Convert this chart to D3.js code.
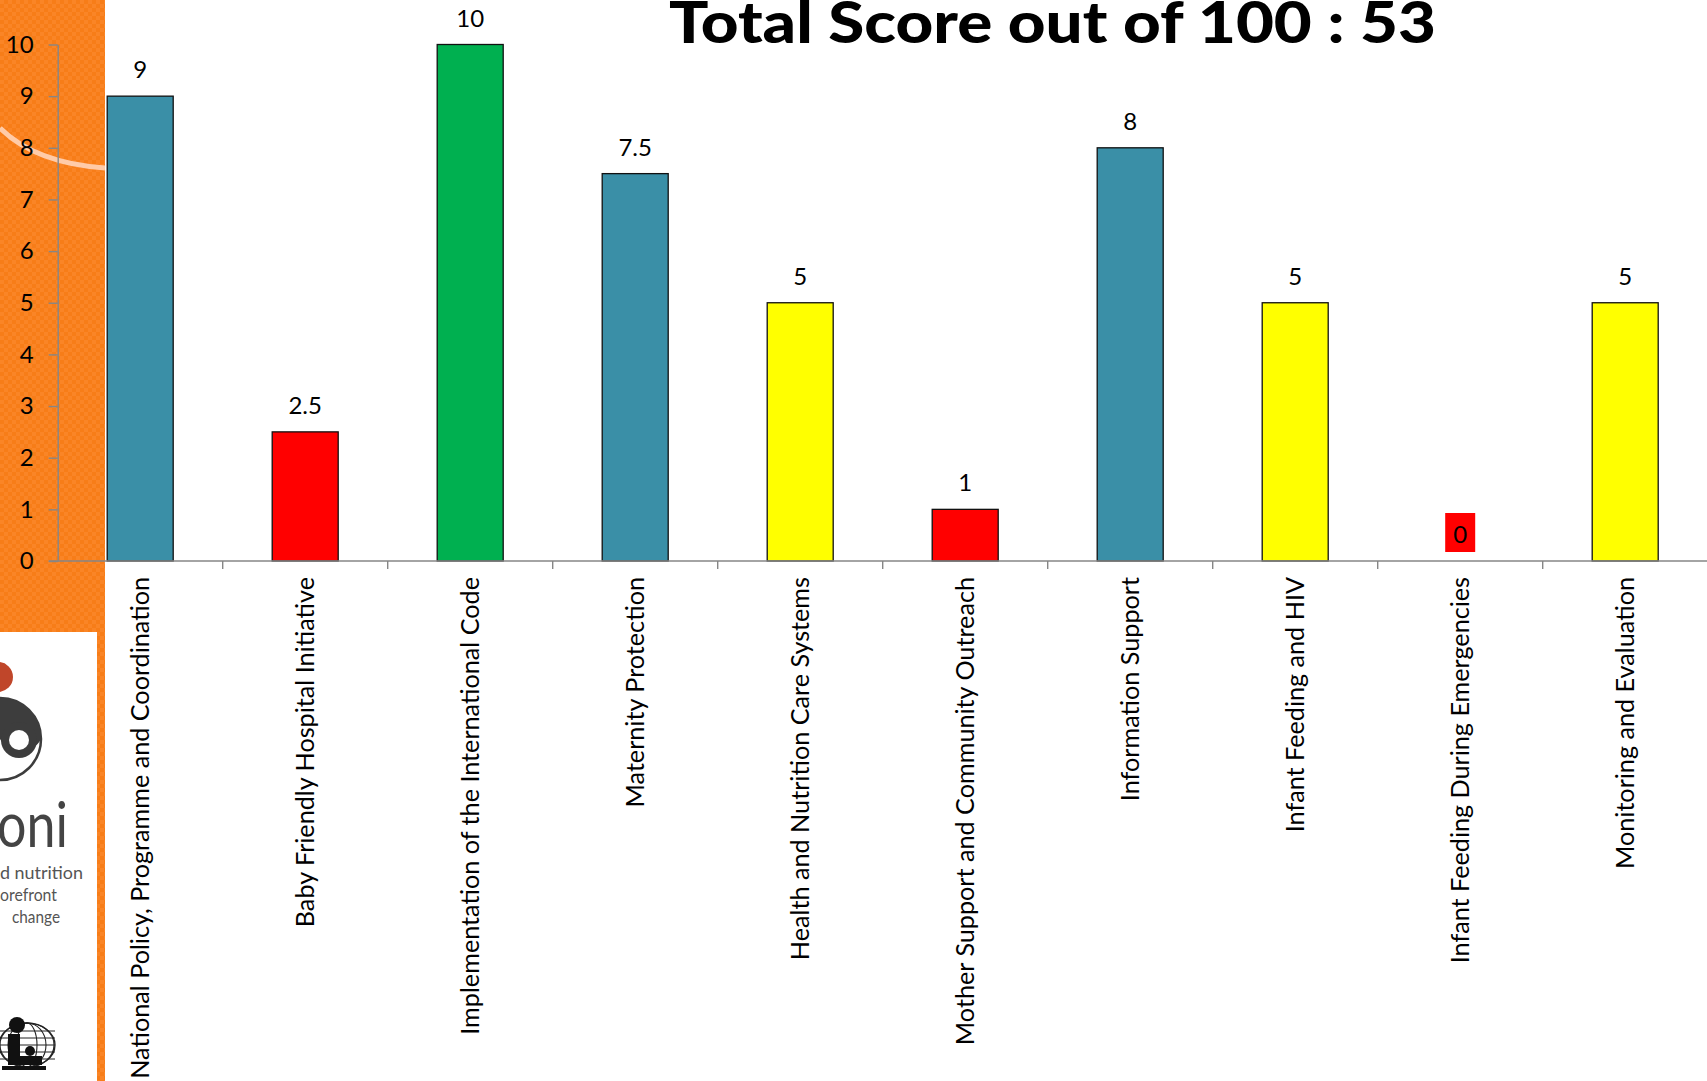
<!DOCTYPE html>
<html>
<head>
<meta charset="utf-8">
<script src="https://cdn.jsdelivr.net/npm/d3@7.9.0/dist/d3.min.js"></script>
<style>
  html, body { margin: 0; padding: 0; background: #fff; overflow: hidden; }
  svg { display: block; font-family: Lato, "Open Sans", sans-serif; }
</style>
</head>
<body>
<div id="chart"></div>
<script>
// ---- data ----
const categories = [
  "National Policy, Programme and Coordination",
  "Baby Friendly Hospital Initiative",
  "Implementation of the International Code",
  "Maternity Protection",
  "Health and Nutrition Care Systems",
  "Mother Support and Community Outreach",
  "Information Support",
  "Infant Feeding and HIV",
  "Infant Feeding During Emergencies",
  "Monitoring and Evaluation"
];
const scores = [9, 2.5, 10, 7.5, 5, 1, 8, 5, 0, 5];
const barColors = ["#3A8FA7", "#FF0000", "#00B050", "#3A8FA7", "#FFFF00",
                   "#FF0000", "#3A8FA7", "#FFFF00", "#FF0000", "#FFFF00"];
const yTicks = [0, 1, 2, 3, 4, 5, 6, 7, 8, 9, 10];
const titleText = "Total Score out of 100 : 53";

const width = 1707, height = 1081;

const svg = d3.select("#chart").append("svg")
  .attr("width", width)
  .attr("height", height);

// ---- slide background: orange textured strip on the left ----
const defs = svg.append("defs");
const pat = defs.append("pattern")
  .attr("id", "orangeTex")
  .attr("width", 8).attr("height", 8)
  .attr("patternUnits", "userSpaceOnUse");
pat.append("rect").attr("width", 8).attr("height", 8).attr("fill", "#F77D18");
pat.append("rect").attr("width", 4).attr("height", 4).attr("fill", "#FA8526");
pat.append("rect").attr("x", 4).attr("y", 4).attr("width", 4).attr("height", 4).attr("fill", "#FA8526");

svg.append("rect")
  .attr("x", 0).attr("y", 0)
  .attr("width", 105).attr("height", height)
  .attr("fill", "url(#orangeTex)");

// faint decorative arc
svg.append("path")
  .attr("d", "M0,128 Q35,163 105,168")
  .attr("fill", "none")
  .attr("stroke", "#FFCBA8")
  .attr("stroke-width", 5);

// ---- logo box (bottom left) ----
const logo = svg.append("g");
logo.append("rect")
  .attr("x", 0).attr("y", 632)
  .attr("width", 97).attr("height", height - 632)
  .attr("fill", "#fff");
logo.append("circle").attr("cx", -2).attr("cy", 677).attr("r", 15).attr("fill", "#C0462A");
logo.append("circle").attr("cx", 0).attr("cy", 739).attr("r", 41)
  .attr("fill", "none").attr("stroke", "#3d3d3d").attr("stroke-width", 2.5);
logo.append("path")
  .attr("d", "M0,698 A41,41 0 0 1 41,739 A23,23 0 0 1 0,739 Z")
  .attr("fill", "#3d3d3d");
logo.append("circle").attr("cx", 19).attr("cy", 740).attr("r", 18).attr("fill", "#3d3d3d");
logo.append("circle").attr("cx", 19).attr("cy", 740).attr("r", 10).attr("fill", "#fff");
logo.append("text")
  .attr("x", -3).attr("y", 847)
  .attr("font-size", 62)
  .attr("textLength", 71)
  .attr("lengthAdjust", "spacingAndGlyphs")
  .attr("fill", "#444")
  .text("oni");
const tag = [
  { t: "d nutrition", x: 0, w: 83 },
  { t: "orefront", x: 0, w: 57 },
  { t: "change", x: 12, w: 48 }
];
logo.selectAll(".tag")
  .data(tag)
  .join("text")
  .attr("x", d => d.x)
  .attr("y", (d, i) => 879 + i * 22)
  .attr("font-size", 17)
  .attr("textLength", d => d.w)
  .attr("lengthAdjust", "spacingAndGlyphs")
  .attr("fill", "#555")
  .text(d => d.t);

// globe + mother icon
const icon = logo.append("g");
icon.append("ellipse").attr("cx", 27).attr("cy", 1045).attr("rx", 28).attr("ry", 22)
  .attr("fill", "none").attr("stroke", "#222").attr("stroke-width", 1.3);
[10, 19, 27].forEach(rx => {
  icon.append("ellipse").attr("cx", 27).attr("cy", 1045).attr("rx", rx).attr("ry", 22)
    .attr("fill", "none").attr("stroke", "#222").attr("stroke-width", 1.1);
});
[1031, 1038, 1045, 1052, 1059].forEach(yy => {
  icon.append("line").attr("x1", 0).attr("x2", 55).attr("y1", yy).attr("y2", yy)
    .attr("stroke", "#222").attr("stroke-width", 1);
});
icon.append("circle").attr("cx", 17).attr("cy", 1025).attr("r", 8).attr("fill", "#111");
icon.append("path").attr("d", "M8,1034 h12 v22 h22 v9 h-34 Z").attr("fill", "#111");
icon.append("circle").attr("cx", 30).attr("cy", 1051).attr("r", 5).attr("fill", "#111");
icon.append("rect").attr("x", 2).attr("y", 1066).attr("width", 44).attr("height", 4).attr("fill", "#111");

// ---- chart scales ----
const x = d3.scaleBand()
  .domain(categories)
  .range([57.7, 1707.7])
  .paddingInner(0.6)
  .paddingOuter(0.3);

const y = d3.scaleLinear()
  .domain([0, 10])
  .range([561, 44.5]);

const axisColor = "#868686";

// Y axis
const yAxis = svg.append("g")
  .attr("transform", `translate(${x.range()[0]},0)`)
  .call(d3.axisLeft(y).tickValues(yTicks).tickSize(9).tickSizeOuter(0).tickPadding(15));
yAxis.select(".domain").attr("stroke", axisColor).attr("stroke-width", 1.4);
yAxis.selectAll(".tick line").attr("stroke", axisColor).attr("stroke-width", 1.4);
yAxis.selectAll(".tick text")
  .attr("font-size", 24)
  .attr("font-family", "Lato, sans-serif")
  .attr("fill", "#000");

// Bars
svg.append("g")
  .selectAll("rect")
  .data(scores)
  .join("rect")
  .attr("x", (d, i) => x(categories[i]))
  .attr("y", d => y(d))
  .attr("width", x.bandwidth())
  .attr("height", d => y(0) - y(d))
  .attr("fill", (d, i) => barColors[i])
  .attr("stroke", "#111")
  .attr("stroke-width", 1.3);

// X axis line + boundary ticks
const step = x.step();
const x0 = x.range()[0];
const boundaries = d3.range(1, categories.length + 1).map(i => x0 + i * step);
svg.append("line")
  .attr("x1", x0 - 9).attr("x2", width)
  .attr("y1", y(0)).attr("y2", y(0))
  .attr("stroke", axisColor).attr("stroke-width", 1.6);
svg.append("g")
  .selectAll("line")
  .data(boundaries)
  .join("line")
  .attr("x1", d => d).attr("x2", d => d)
  .attr("y1", y(0)).attr("y2", y(0) + 8)
  .attr("stroke", axisColor).attr("stroke-width", 1.4);

// Category labels (rotated)
svg.append("g")
  .selectAll("text")
  .data(categories)
  .join("text")
  .attr("transform", d => `translate(${x(d) + x.bandwidth() / 2},577) rotate(-90)`)
  .attr("text-anchor", "end")
  .attr("dy", "0.35em")
  .attr("font-size", 25.2)
  .attr("fill", "#000")
  .text(d => d);

// Value labels (with red background for zero)
const labels = svg.append("g");
scores.forEach((v, i) => {
  const cx = x(categories[i]) + x.bandwidth() / 2;
  const by = y(v) - 18;
  if (v === 0) {
    labels.append("rect")
      .attr("x", cx - 15).attr("y", by - 30)
      .attr("width", 30).attr("height", 39)
      .attr("fill", "#FF0000");
  }
  labels.append("text")
    .attr("x", cx).attr("y", by)
    .attr("text-anchor", "middle")
    .attr("font-size", 24)
    .attr("fill", "#000")
    .text(String(v));
});

// Title
svg.append("text")
  .attr("x", 669).attr("y", 43)
  .attr("font-size", 58)
  .attr("font-weight", 900)
  .attr("textLength", 767)
  .attr("lengthAdjust", "spacingAndGlyphs")
  .attr("fill", "#000")
  .text(titleText);
</script>
</body>
</html>
